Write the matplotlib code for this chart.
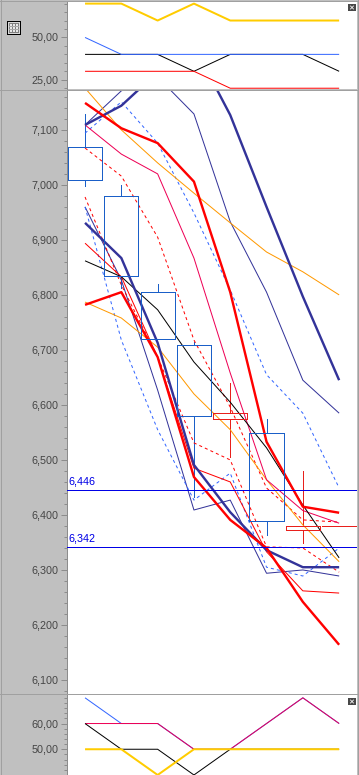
import matplotlib
matplotlib.use("Agg")
import matplotlib.pyplot as plt
from matplotlib.patches import Rectangle
from matplotlib.ticker import MultipleLocator, FixedLocator, FuncFormatter

W, H = 359, 775
periods = list(range(8))

# top indicator panel
top_yellow = [70, 70, 60, 70, 60, 60, 60, 60]
top_black = [40, 40, 40, 30, 40, 40, 40, 30]
top_blue = [50, 40, 40, 40, 40, 40, 40, 40]
top_red = [30, 30, 30, 30, 20, 20, 20, 20]
top_labels = [25, 50]

# bottom indicator panel
bot_blue = [70, 60, 60, 50, 50, 60, 70, 60]
bot_crimson = [60, 60, 60, 50, 50, 60, 70, 60]
bot_black = [60, 50, 50, 40, 50, 50, 50, 50]
bot_yellow = [50, 50, 40, 50, 50, 50, 50, 50]
bot_labels = [50, 60]

# candles
opens = [7069, 6980, 6805, 6709, 6574, 6549, 6373, 6380]
closes = [7009, 6834, 6720, 6580, 6585, 6389, 6380, 6380]
highs = [7129, 7000, 6820, 6715, 6640, 6575, 6480, 6380]
lows = [6998, 6813, 6720, 6433, 6505, 6364, 6349, 6380]

# price lines
red_thick_a = [7149, 7103, 7076, 7006, 6805, 6533, 6415, 6404]
red_thick_b = [6782, 6805, 6687, 6469, 6391, 6340, 6242, 6164]
navy_thick_a = [7109, 7144, 7205, 7253, 7127, 6960, 6797, 6645]
navy_thick_b = [6931, 6867, 6713, 6491, 6405, 6336, 6305, 6305]
navy_thin_a = [7109, 7171, 7196, 7129, 6933, 6805, 6645, 6585]
navy_thin_b = [6960, 6827, 6627, 6409, 6427, 6294, 6300, 6289]
crimson_thin = [7109, 7056, 7020, 6867, 6658, 6464, 6408, 6385]
red_thin = [6894, 6833, 6687, 6485, 6460, 6333, 6262, 6258]
red_dash_a = [7067, 7016, 6905, 6718, 6596, 6449, 6391, 6387]
red_dash_b = [6978, 6818, 6687, 6531, 6500, 6342, 6340, 6296]
blue_dash_a = [7094, 7151, 7076, 6949, 6809, 6655, 6585, 6449]
blue_dash_b = [6960, 6718, 6555, 6427, 6476, 6305, 6289, 6340]
orange_a = [7176, 7100, 7040, 6985, 6931, 6878, 6842, 6800]
orange_b = [6787, 6758, 6705, 6620, 6555, 6464, 6382, 6315]
black_line = [6862, 6833, 6773, 6678, 6605, 6522, 6418, 6322]

levels = [6446, 6342]
level_labels = ["6,446", "6,342"]

PANEL = "#c0c0c0"
BORDER = "#a0a0a0"
TICK = "#8c8c8c"
TEXT = "#484848"
NAVY = "#333399"
RED = "#ff0000"
CRIMSON = "#ee0055"
BLUE = "#3366ff"
ORANGE = "#ff9900"
YELLOW = "#ffcc00"
CANDLE_BLUE = "#1a5fc8"
CANDLE_RED = "#e8201c"
LEVEL = "#0000e6"

plt.rcParams["font.family"] = ["Liberation Sans", "DejaVu Sans"]
plt.rcParams["text.hinting"] = "native"
plt.rcParams["text.hinting_factor"] = 1
plt.rcParams["lines.scale_dashes"] = False

px = 0.72
THIN = 1.0
THICK = 2.4
YEL = 2.0
fig = plt.figure(figsize=(W / 100, H / 100), dpi=100, facecolor=PANEL)


def make_axes(y0, y1, ylim, major, minor, fmt):
    ax = fig.add_axes([67 / W, 1 - y1 / H, (357 - 67) / W, (y1 - y0) / H])
    ax.set_xlim(-0.497, 7.492)
    ax.set_ylim(*ylim)
    ax.set_facecolor("white")
    for s in ax.spines.values():
        s.set_visible(False)
    ax.spines["left"].set_visible(True)
    ax.spines["left"].set_color(TICK)
    ax.spines["left"].set_linewidth(1 * px)
    ax.set_xticks([])
    if isinstance(major, list):
        ax.yaxis.set_major_locator(FixedLocator(major))
    else:
        ax.yaxis.set_major_locator(MultipleLocator(major))
    ax.yaxis.set_minor_locator(MultipleLocator(minor))
    ax.yaxis.set_major_formatter(FuncFormatter(fmt))
    ax.tick_params(axis="y", which="major", length=6 * px, width=1 * px, color=TICK,
                   labelcolor=TEXT, labelsize=7.9, pad=1.7)
    ax.tick_params(axis="y", which="minor", length=3 * px, width=1 * px, color=TICK)
    return ax


def draw(ax, values, color, width=THIN, dashed=False):
    line, = ax.plot(periods, values, color=color, lw=width * px,
                    solid_joinstyle="round", solid_capstyle="butt",
                    dash_capstyle="butt", dash_joinstyle="round")
    if dashed:
        line.set_dashes((2.2, 2.2))
    return line


def indicator_fmt(v, _):
    return f"{v:.2f}".replace(".", ",")


def price_fmt(v, _):
    return f"{int(v):,}"


# top
ax_top = make_axes(1, 89, (19.54, 71.54), top_labels, 5, indicator_fmt)
draw(ax_top, top_black, "black")
draw(ax_top, top_blue, BLUE)
draw(ax_top, top_red, RED)
draw(ax_top, top_yellow, YELLOW, YEL)

# main
ax = make_axes(91, 694, (6074.5, 7170.7), 100, 20, price_fmt)
for i in periods:
    col = CANDLE_BLUE if closes[i] < opens[i] else CANDLE_RED
    hi_body, lo_body = max(opens[i], closes[i]), min(opens[i], closes[i])
    ax.plot([i, i], [hi_body, highs[i]], color=col, lw=1 * px, antialiased=False,
            solid_capstyle="butt")
    ax.plot([i, i], [lows[i], lo_body], color=col, lw=1 * px, antialiased=False,
            solid_capstyle="butt")
    ax.add_patch(Rectangle((i - 0.47, lo_body), 0.94, hi_body - lo_body, fill=False,
                           edgecolor=col, lw=1 * px, antialiased=False, zorder=2.5))

draw(ax, navy_thin_a, NAVY)
draw(ax, navy_thin_b, NAVY)
draw(ax, blue_dash_a, BLUE, dashed=True)
draw(ax, blue_dash_b, BLUE, dashed=True)
draw(ax, red_dash_a, RED, dashed=True)
draw(ax, red_dash_b, RED, dashed=True)
draw(ax, orange_a, ORANGE)
draw(ax, orange_b, ORANGE)
draw(ax, crimson_thin, CRIMSON)
draw(ax, red_thin, RED)
draw(ax, black_line, "black")
draw(ax, navy_thick_a, NAVY, THICK)
draw(ax, navy_thick_b, NAVY, THICK)
draw(ax, red_thick_a, RED, THICK)
draw(ax, red_thick_b, RED, THICK)
for lv, lab in zip(levels, level_labels):
    ax.axhline(lv, color=LEVEL, lw=1 * px, antialiased=False, zorder=5)
    ax.annotate(lab, (0, lv), xycoords=("axes fraction", "data"), xytext=(1, 2.2),
                textcoords="offset points", color=LEVEL, fontsize=7.9, va="bottom", ha="left")

# bottom
ax_bot = make_axes(695, 775, (39.99, 71.09), bot_labels, 2, indicator_fmt)
draw(ax_bot, bot_blue, BLUE)
draw(ax_bot, bot_crimson, CRIMSON)
draw(ax_bot, bot_black, "black")
draw(ax_bot, bot_yellow, YELLOW, YEL)

# window chrome, in pixel coordinates
ov = fig.add_axes([0, 0, 1, 1], facecolor="none", zorder=10)
ov.set_xlim(0, W)
ov.set_ylim(H, 0)
ov.axis("off")
for y in (0.5, 90, 694):
    ov.plot([0, W], [y, y], color=BORDER, lw=1 * px, antialiased=False)
for x in (0.5, 358):
    ov.plot([x, x], [0, H], color=BORDER, lw=1 * px, antialiased=False)

# grid icon
ov.add_patch(Rectangle((6.5, 20.5), 13, 13, facecolor="#d8d8d8", edgecolor="black",
                       lw=1 * px, antialiased=False))
ov.add_patch(Rectangle((8.5, 23), 9, 8.5, facecolor="#e8e8e8", edgecolor="#808080",
                       lw=1 * px, antialiased=False))
for x in (11.5, 14.5):
    ov.plot([x, x], [23, 31.5], color="#808080", lw=1 * px, antialiased=False)
for y in (26, 28.5):
    ov.plot([8.5, 17.5], [y, y], color="#a8a8a8", lw=1 * px, antialiased=False)

# close buttons
for cy in (7.5, 701.5):
    ov.add_patch(Rectangle((348, cy - 3.5), 8, 7, facecolor="#484848", edgecolor="none",
                           antialiased=False))
    ov.plot([350.5, 353.5], [cy - 1.5, cy + 1.5], color="white", lw=0.8 * px)
    ov.plot([350.5, 353.5], [cy + 1.5, cy - 1.5], color="white", lw=0.8 * px)

fig.savefig("out.png", dpi=100, facecolor=PANEL)
